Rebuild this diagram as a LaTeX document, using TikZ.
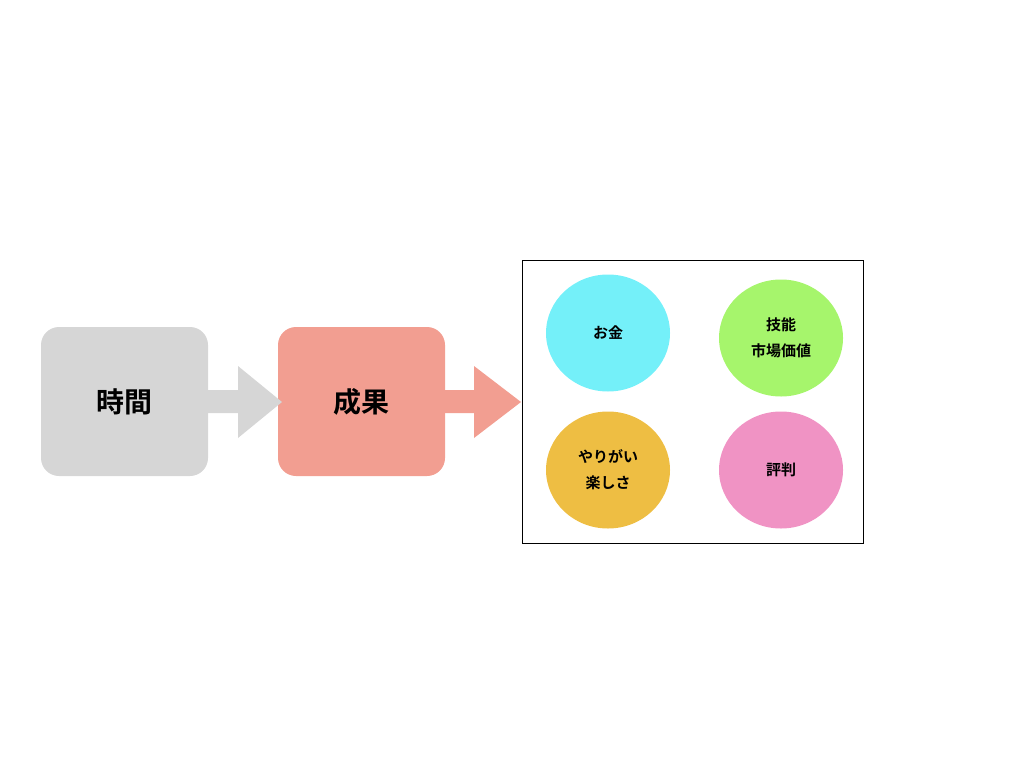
\documentclass[tikz,border=0pt]{standalone}
\usepackage{fontspec}
\newfontfamily\cjk{Noto Sans CJK JP}[BoldFont={Noto Sans CJK JP Bold}]
\usetikzlibrary{shapes.geometric}
\definecolor{gbox}{HTML}{D6D6D6}
\definecolor{sbox}{HTML}{F29E91}
\definecolor{ca}{HTML}{74F0F9}
\definecolor{cb}{HTML}{A6F56C}
\definecolor{cc}{HTML}{EEBE43}
\definecolor{cd}{HTML}{F093C4}
\tikzset{
 bigbox/.style={rounded corners=18pt,minimum width=167pt,minimum height=149pt,inner sep=0,font=\cjk\bfseries\fontsize{28}{32}\selectfont},
 blob/.style={ellipse,minimum width=124pt,minimum height=117pt,inner sep=0,align=center,font=\cjk\bfseries\fontsize{15}{26}\selectfont}
}
\begin{document}
\begin{tikzpicture}[x=1pt,y=-1pt]
\useasboundingbox (0,0) rectangle (1024,768);
\node[bigbox,fill=gbox] (t) at (124.5,401.5) {時間};
\node[bigbox,fill=sbox] (s) at (361.5,401.5) {成果};
\fill[gbox] (208,390) -- (238,390) -- (238,366) -- (282,402) -- (238,438) -- (238,413) -- (208,413) -- cycle;
\fill[sbox] (445,390) -- (474,390) -- (474,366) -- (521,402) -- (474,438) -- (474,413) -- (445,413) -- cycle;
\node[draw,line width=0.8pt,minimum width=341pt,minimum height=283pt,inner sep=0] (r) at (692.5,401.5) {};
\node[blob,fill=ca] (a) at (608,333) {お金};
\node[blob,fill=cb] (b) at (781,338) {技能\\市場価値};
\node[blob,fill=cc] (c) at (608,470) {やりがい\\楽しさ};
\node[blob,fill=cd] (d) at (781,470) {評判};
\end{tikzpicture}
\end{document}
